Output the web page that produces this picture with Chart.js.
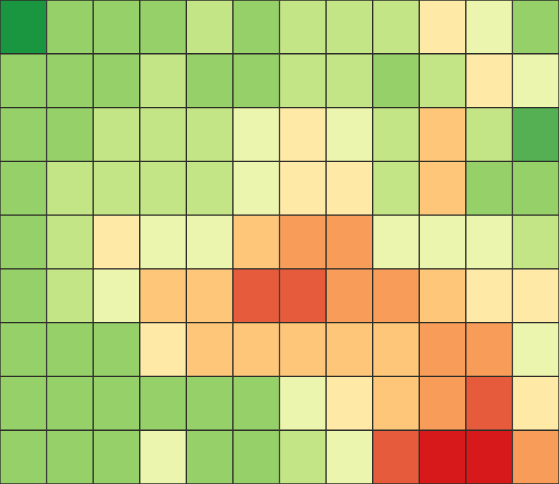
<!DOCTYPE html>
<html>
<head>
<meta charset="utf-8">
<title>Heatmap</title>
<script src="https://cdn.jsdelivr.net/npm/chart.js@4"></script>
<style>
  html, body { margin: 0; padding: 0; background: #ffffff; }
  #wrap { width: 559px; height: 484px; }
</style>
</head>
<body>
<div id="wrap"><canvas id="heat" width="559" height="484"></canvas></div>
<script>
// columns and rows of the grid (top row first)
const columns = ['C1', 'C2', 'C3', 'C4', 'C5', 'C6', 'C7', 'C8', 'C9', 'C10', 'C11', 'C12'];
const rows = ['R1', 'R2', 'R3', 'R4', 'R5', 'R6', 'R7', 'R8', 'R9'];

// cell scores, 1 = best (dark green) ... 10 = worst (red)
const row1 = [1, 3, 3, 3, 4, 3, 4, 4, 4, 6, 5, 3];
const row2 = [3, 3, 3, 4, 3, 3, 4, 4, 3, 4, 6, 5];
const row3 = [3, 3, 4, 4, 4, 5, 6, 5, 4, 7, 4, 2];
const row4 = [3, 4, 4, 4, 4, 5, 6, 6, 4, 7, 3, 3];
const row5 = [3, 4, 6, 5, 5, 7, 8, 8, 5, 5, 5, 4];
const row6 = [3, 4, 5, 7, 7, 9, 9, 8, 8, 7, 6, 6];
const row7 = [3, 3, 3, 6, 7, 7, 7, 7, 7, 8, 8, 5];
const row8 = [3, 3, 3, 3, 3, 3, 5, 6, 7, 8, 9, 6];
const row9 = [3, 3, 3, 5, 3, 3, 4, 5, 9, 10, 10, 8];
const grid = [row1, row2, row3, row4, row5, row6, row7, row8, row9];

// colour for each score
const scoreColors = {
  1: '#1a9641',
  2: '#55b053',
  3: '#96d068',
  4: '#c4e585',
  5: '#ebf5ad',
  6: '#ffe9a6',
  7: '#fec679',
  8: '#f89d59',
  9: '#e65b3c',
  10: '#d7191c'
};

// stacked bars: first dataset sits at the bottom, so walk rows upward
const datasets = rows.map((name, i) => {
  const scores = grid[i];
  return {
    label: name,
    data: scores.map(() => 1),
    scores: scores,
    backgroundColor: scores.map(s => scoreColors[s]),
    borderColor: '#2f2f2a',
    borderWidth: 1,
    borderSkipped: false,
    barPercentage: 1,
    categoryPercentage: 1
  };
}).reverse();

new Chart(document.getElementById('heat'), {
  type: 'bar',
  data: {
    labels: columns,
    datasets: datasets
  },
  options: {
    responsive: false,
    animation: false,
    layout: { padding: 0 },
    scales: {
      x: { stacked: true, display: false },
      y: { stacked: true, display: false, min: 0, max: rows.length }
    },
    plugins: {
      legend: { display: false },
      tooltip: {
        callbacks: {
          label: (ctx) => `${ctx.dataset.label} ${ctx.label}: ${ctx.dataset.scores[ctx.dataIndex]}`
        }
      }
    }
  }
});
</script>
</body>
</html>
